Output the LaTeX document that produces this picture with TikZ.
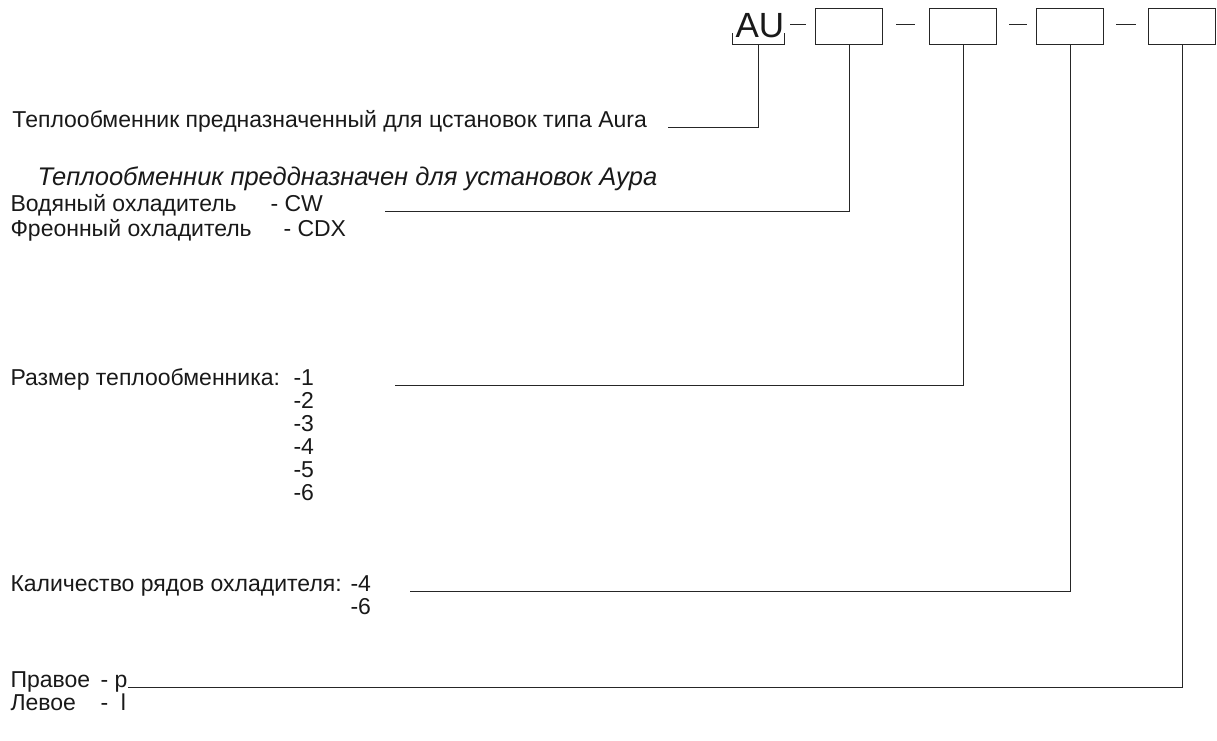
\documentclass[tikz,border=0pt]{standalone}
\usepackage{fontspec}
\setmainfont{Liberation Sans}
\begin{document}
\begin{tikzpicture}[x=1pt,y=-1pt,line width=1pt,draw=black!85,
  every node/.style={inner sep=0pt,anchor=base west,text=black!90,font=\fontsize{23}{26}\selectfont},
  codebox/.style={draw,minimum width=67pt,minimum height=36pt,anchor=north west}]
\useasboundingbox (0,0) rectangle (1217,740);
% code header
\node[font=\fontsize{35}{38}\selectfont] (au) at (735,37) {AU};
\draw (732,33)--(732,44)--(784,44)--(784,33);
\coordinate (aufoot) at (758,44);
\node[codebox] (b1) at (815,8) {};
\node[codebox] (b2) at (929,8) {};
\node[codebox] (b3) at (1036,8) {};
\node[codebox] (b4) at (1148,8) {};
\draw (790,24)--(806,24);
\draw (896,24)--(915,24);
\draw (1009,24)--(1027,24);
\draw (1116,24)--(1136,24);
% descriptions
\node (type) at (12,127) {Теплообменник предназначенный для цстановок типа Aura};
\node[font=\fontsize{25.5}{28}\itshape] (typeru) at (37,185) {Теплообменник преддназначен для установок Аура};
\node (cw) at (10,211) {Водяный охладитель};
\node (cwcode) at (270,211) {- CW};
\node (cdx) at (10,236) {Фреонный охладитель};
\node (cdxcode) at (283,236) {- CDX};
\node (size) at (10,385) {Размер теплообменника:};
\foreach \n [count=\i from 0] in {1,...,6}
  \node (size\n) at (293,385+23*\i) {-\n};
\node (rows) at (10,591) {Каличество рядов охладителя:};
\node (rows4) at (350,591) {-4};
\node (rows6) at (350,614) {-6};
\node (right) at (10,687) {Правое};
\node (rightcode) at (100,687) {- p};
\node (left) at (10,710) {Левое};
\node (leftcode) at (100,710) {-\ \ l};
% leaders
\coordinate (l0) at (668,127);
\coordinate (l1) at (385,211);
\coordinate (l2) at (395,385);
\coordinate (l3) at (410,591);
\coordinate (l4) at (128,687);
\draw (aufoot) |- (l0);
\draw (b1.south) |- (l1);
\draw (b2.south) |- (l2);
\draw (b3.south) |- (l3);
\draw (b4.south) |- (l4);
\end{tikzpicture}
\end{document}
